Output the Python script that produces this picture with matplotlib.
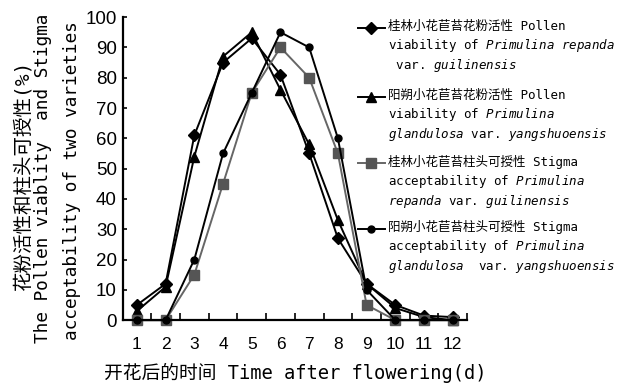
import matplotlib
matplotlib.use('Agg')
import matplotlib.pyplot as plt
from matplotlib.lines import Line2D

plt.rcParams['mathtext.fontset'] = 'custom'
plt.rcParams['mathtext.it'] = 'DejaVu Sans Mono:italic'
plt.rcParams['mathtext.rm'] = 'DejaVu Sans Mono'

MONO_CJK = ['DejaVu Sans Mono', 'Noto Sans CJK SC']

days = [1, 2, 3, 4, 5, 6, 7, 8, 9, 10, 11, 12]
pollen_guilin = [5, 12, 61, 85, 93, 81, 55, 27, 12, 5, 1.5, 1]
pollen_yangshuo = [3, 11, 54, 87, 95, 76, 58, 33, 12, 4, 1, 0]
stigma_guilin = [0, 0, 15, 45, 75, 90, 80, 55, 5, 0, 0, 0]
stigma_yangshuo = [0, 0, 20, 55, 75, 95, 90, 60, 10, 0, 0, 0]

labels = [
    '桂林小花苣苔花粉活性 Pollen\nviability of $\\mathit{Primulina}$ $\\mathit{repanda}$\n var. $\\mathit{guilinensis}$',
    '阳朔小花苣苔花粉活性 Pollen\nviability of $\\mathit{Primulina}$\n$\\mathit{glandulosa}$ var. $\\mathit{yangshuoensis}$',
    '桂林小花苣苔柱头可授性 Stigma\nacceptability of $\\mathit{Primulina}$\n$\\mathit{repanda}$ var. $\\mathit{guilinensis}$',
    '阳朔小花苣苔柱头可授性 Stigma\nacceptability of $\\mathit{Primulina}$\n$\\mathit{glandulosa}$  var. $\\mathit{yangshuoensis}$',
]

styles = [
    dict(color='black', marker='D', ms=6.5),
    dict(color='black', marker='^', ms=7),
    dict(color='#666666', marker='s', ms=6.5, mfc='#555555', mec='#555555'),
    dict(color='black', marker='o', ms=5),
]
series = [pollen_guilin, pollen_yangshuo, stigma_guilin, stigma_yangshuo]

fig = plt.figure(figsize=(6.22, 3.89), dpi=100)
ax = fig.add_axes([0.197, 0.177, 0.554, 0.779])

for vals, st in zip(series, styles):
    ax.plot(days, vals, lw=1.4, clip_on=False, **st)

ax.set_xlim(0.5, 12.5)
ax.set_ylim(0, 100)
ax.set_yticks(range(0, 101, 10))
ax.set_xticks(days)
ax.set_xticks([d + 0.5 for d in days], minor=True)
ax.tick_params(axis='x', which='major', length=0, pad=12, labelsize=12.5)
ax.tick_params(axis='x', which='minor', direction='in', length=5, width=1.2)
ax.tick_params(axis='y', direction='in', length=3, width=1.2, labelsize=13.5, pad=4)
for lab in ax.get_xticklabels() + ax.get_yticklabels():
    lab.set_family('Liberation Sans')
for s in ['top', 'right']:
    ax.spines[s].set_visible(False)
for s in ['left', 'bottom']:
    ax.spines[s].set_linewidth(1.6)

ax.set_xlabel('开花后的时间 Time after flowering(d)', family=MONO_CJK,
              fontsize=13.5, labelpad=8)

# y label: three rotated lines
fig.text(0.037, 0.548, '花粉活性和柱头可授性(%)', rotation=90, ha='center', va='center',
         family=MONO_CJK, fontsize=14)
fig.text(0.069, 0.542, 'The Pollen viablity  and Stigma', rotation=90, ha='center',
         va='center', family=MONO_CJK, fontsize=12.8)
fig.text(0.116, 0.535, 'acceptability of two varieties', rotation=90, ha='center',
         va='center', family=MONO_CJK, fontsize=12.8)

# legend drawn by hand to keep handle on the first line of each entry
tops = [0.948, 0.771, 0.601, 0.434]
handle_y = [0.928, 0.751, 0.581, 0.411]
for lab, st, top, hy in zip(labels, styles, tops, handle_y):
    fig.add_artist(Line2D([0.576, 0.597, 0.619], [hy, hy, hy], transform=fig.transFigure,
                          lw=1.4, markevery=[1], **st))
    fig.text(0.624, top, lab, ha='left', va='top', family=MONO_CJK, fontsize=9,
             linespacing=1.3)

plt.savefig('out.png', dpi=100)
